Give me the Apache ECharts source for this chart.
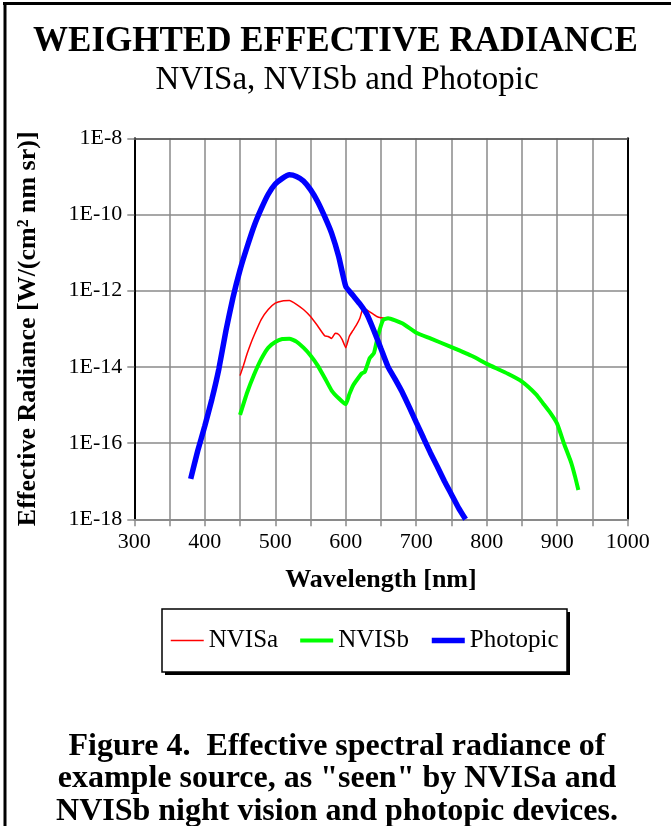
<!DOCTYPE html>
<html>
<head>
<meta charset="utf-8">
<script src="https://cdn.jsdelivr.net/npm/echarts@6/dist/echarts.min.js"></script>
<style>
html,body{margin:0;padding:0;background:#fff;}
#chart{width:671px;height:826px;}
</style>
</head>
<body>
<div id="chart"></div>
<script>
// ---- data ----
const xTicks = [300, 400, 500, 600, 700, 800, 900, 1000];
const yTickExponents = [-18, -16, -14, -12, -10, -8];

const nvisaNm = [450, 455, 460, 465, 470, 480, 490, 500, 510, 520, 530, 540, 550, 560, 570, 575, 580, 585, 590, 595, 600, 605, 610, 615, 620, 625, 634, 644, 650, 660];
const nvisaVal = [5.9e-15, 1.1e-14, 2.2e-14, 4.0e-14, 6.8e-14, 1.75e-13, 3.2e-13, 4.7e-13, 5.4e-13, 5.5e-13, 4.4e-13, 3.2e-13, 2.1e-13, 1.2e-13, 6.6e-14, 6.3e-14, 5.6e-14, 7.6e-14, 7.1e-14, 5.2e-14, 3.2e-14, 6.3e-14, 8.9e-14, 1.25e-13, 1.9e-13, 3.5e-13, 2.8e-13, 2.1e-13, 1.95e-13, 1.9e-13];

const nvisbNm = [450, 460, 470, 480, 490, 500, 510, 520, 530, 540, 550, 560, 570, 580, 590, 600, 605, 611, 618, 623, 627, 634, 640, 646, 653, 660, 680, 700, 720, 750, 780, 800, 830, 850, 870, 880, 890, 900, 910, 920, 925, 930];
const nvisbVal = [5.5e-16, 2.1e-15, 6.3e-15, 1.6e-14, 3.2e-14, 4.5e-14, 5.4e-14, 5.5e-14, 4.6e-14, 3.2e-14, 2.0e-14, 1.1e-14, 5.2e-15, 2.4e-15, 1.5e-15, 1.05e-15, 1.9e-15, 3.4e-15, 5.2e-15, 6.8e-15, 7.4e-15, 1.7e-14, 2.3e-14, 6.9e-14, 1.7e-13, 1.9e-13, 1.4e-13, 7.9e-14, 5.6e-14, 3.3e-14, 1.9e-14, 1.2e-14, 6.6e-15, 4.1e-15, 1.9e-15, 1.1e-15, 6.3e-16, 3.2e-16, 9.3e-17, 3.0e-17, 1.4e-17, 5.9e-18];

const photopicNm = [380, 390, 400, 410, 420, 430, 440, 450, 460, 470, 480, 490, 500, 510, 520, 530, 540, 550, 560, 570, 580, 590, 600, 610, 620, 630, 640, 650, 660, 670, 680, 690, 700, 710, 720, 730, 740, 750, 760, 770];
const photopicVal = [1.15e-17, 6.3e-17, 2.8e-16, 1.4e-15, 8.9e-15, 8.9e-14, 6.6e-13, 3.5e-12, 1.4e-11, 5.0e-11, 1.4e-10, 3.4e-10, 6.3e-10, 8.9e-10, 1.1e-9, 1.0e-9, 7.6e-10, 4.5e-10, 2.2e-10, 8.9e-11, 3.2e-11, 7.9e-12, 1.3e-12, 7.6e-13, 4.5e-13, 2.4e-13, 8.9e-14, 3.0e-14, 1.0e-14, 4.8e-15, 2.2e-15, 8.9e-16, 3.5e-16, 1.4e-16, 5.6e-17, 2.4e-17, 1.0e-17, 4.5e-18, 2.0e-18, 1.0e-18];

const seriesNames = ['NVISa', 'NVISb', 'Photopic'];
const seriesColors = ['#ff0000', '#00ff00', '#0000ff'];
const seriesWidths = [1.5, 4, 5.5];
const titleText = 'WEIGHTED EFFECTIVE RADIANCE';
const subtitleText = 'NVISa, NVISb and Photopic';
const captionText = 'Figure 4.  Effective spectral radiance of\nexample source, as "seen" by NVISa and\nNVISb night vision and photopic devices.';

const pairs = (xs, ys) => xs.map((x, i) => [x, ys[i]]);
const FONT = '"Liberation Serif", "Times New Roman", serif';
const GRID_C = '#8a8a8a';

const chart = echarts.init(document.getElementById('chart'), null, {renderer: 'canvas'});
const expOf = v => Math.round(Math.log10(v));
const seriesData = [pairs(nvisaNm, nvisaVal), pairs(nvisbNm, nvisbVal), pairs(photopicNm, photopicVal)];

const option = {
  animation: false,
  backgroundColor: '#fff',
  grid: {left: 134.3, top: 138.3, right: 43.3, bottom: 306.7, containLabel: false},
  xAxis: [{
    type: 'value', min: 300, max: 1000, interval: 50,
    name: 'Wavelength [nm]', nameLocation: 'middle', nameGap: 48,
    nameTextStyle: {fontFamily: FONT, fontSize: 26, fontWeight: 'bold', color: '#000'},
    axisLine: {show: true, onZero: false, lineStyle: {color: GRID_C, width: 2}},
    axisTick: {show: true, inside: false, length: 7, lineStyle: {color: GRID_C, width: 1.5}},
    axisLabel: {fontFamily: FONT, fontSize: 22, color: '#000', margin: 12,
      formatter: v => (xTicks.indexOf(v) >= 0 ? String(v) : '')},
    splitLine: {show: true, lineStyle: {color: GRID_C, width: 1.5}}
  }, {
    type: 'value', min: 300, max: 1000, position: 'top',
    axisLine: {show: true, onZero: false, lineStyle: {color: '#555', width: 1.5}},
    axisTick: {show: false}, axisLabel: {show: false}, splitLine: {show: false}
  }],
  yAxis: [{
    type: 'log', logBase: 10, min: 1e-18, max: 1e-8, interval: 2,
    name: 'Effective Radiance [W/(cm² nm sr)]', nameLocation: 'middle', nameGap: 93,
    nameTextStyle: {fontFamily: FONT, fontSize: 26, fontWeight: 'bold', color: '#000'},
    axisLine: {show: true, onZero: false, lineStyle: {color: '#000', width: 2}},
    axisTick: {show: true, length: 7, lineStyle: {color: GRID_C, width: 1.5}},
    axisLabel: {fontFamily: FONT, fontSize: 22, color: '#000', margin: 12,
      formatter: v => (yTickExponents.indexOf(expOf(v)) >= 0 ? '1E' + expOf(v) : '')},
    splitLine: {show: true, lineStyle: {color: GRID_C, width: 1.5}}
  }, {
    type: 'log', logBase: 10, min: 1e-18, max: 1e-8, position: 'right',
    axisLine: {show: true, onZero: false, lineStyle: {color: '#000', width: 2}},
    axisTick: {show: false}, axisLabel: {show: false}, splitLine: {show: false}
  }],
  legend: {
    left: 162, top: 609, z: 10,
    orient: 'horizontal',
    data: seriesNames.map((n, i) => ({name: n, lineStyle: {width: seriesWidths[i], color: seriesColors[i]}})),
    padding: [19, 6, 19, 8],
    itemGap: 20, itemWidth: 33, itemHeight: 14,
    textStyle: {fontFamily: FONT, fontSize: 25, color: '#000'},
    itemStyle: {opacity: 0, borderWidth: 0},
    borderWidth: 0, backgroundColor: 'transparent'
  },
  series: seriesNames.map((n, i) => ({
    name: n, type: 'line', data: seriesData[i], symbol: 'none', smooth: 0.15,
    lineStyle: {color: seriesColors[i], width: seriesWidths[i]}, itemStyle: {color: seriesColors[i]}, z: 3 + i
  })),
  graphic: [
    {type: 'line', shape: {x1: 3, y1: 3.5, x2: 671, y2: 3.5}, style: {stroke: '#000', lineWidth: 3}},
    {type: 'line', shape: {x1: 5, y1: 2, x2: 5, y2: 826}, style: {stroke: '#000', lineWidth: 3}},
    // legend box and its drop shadow
    {type: 'rect', z: 1, shape: {x: 165, y: 612, width: 405, height: 63}, style: {fill: '#000'}},
    {type: 'rect', z: 2, shape: {x: 162, y: 609, width: 405, height: 63}, style: {fill: '#fff', stroke: '#000', lineWidth: 1.5}},
    {type: 'text', x: 335.5, y: 42, style: {text: titleText, font: 'bold 35px ' + FONT, fill: '#000', align: 'center', verticalAlign: 'middle'}},
    {type: 'text', x: 347, y: 80, style: {text: subtitleText, font: '33px ' + FONT, fill: '#000', align: 'center', verticalAlign: 'middle'}},
    {type: 'text', x: 337, y: 779, style: {text: captionText, font: 'bold 32px ' + FONT, lineHeight: 32.5, fill: '#000', align: 'center', verticalAlign: 'middle'}}
  ]
};
chart.setOption(option);
</script>
</body>
</html>
